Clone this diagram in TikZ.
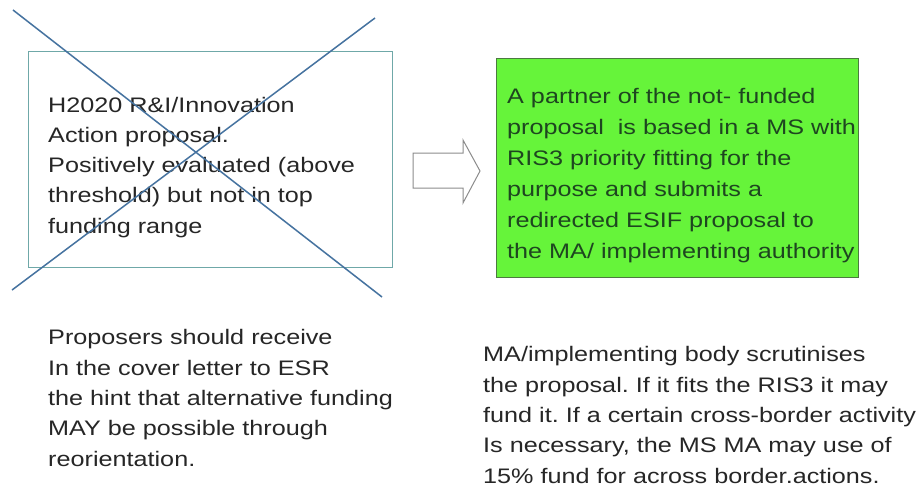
\documentclass[tikz,border=0pt]{standalone}
\usepackage{fontspec}
\setmainfont{Liberation Sans}[FakeStretch=1.2]
\frenchspacing
\begin{document}
\begin{tikzpicture}[x=1pt,y=-1pt,
  bodytext/.style={anchor=base west,inner sep=0pt,align=left,
    font=\fontsize{21}{30.3}\selectfont},
  crossline/.style={draw=crossblue,line width=1.5pt},
]
\definecolor{frameteal}{HTML}{6FA8A8}
\definecolor{crossblue}{HTML}{4673A0}
\definecolor{brightgreen}{HTML}{66F43A}
\definecolor{greenframe}{HTML}{4C7A40}
\definecolor{greentext}{HTML}{1E4620}
\definecolor{darktext}{HTML}{262626}
\definecolor{arrowgray}{HTML}{8C8C8C}
\useasboundingbox (0,0) rectangle (922,487);
\fill[white] (0,0) rectangle (922,487);

% rejected H2020 proposal (multi-line nodes are placed by their last baseline)
\node[draw=frameteal,line width=1.4pt,minimum width=364pt,minimum height=216pt,
  anchor=north west,inner sep=0pt] (h2020) at (28,51) {};
\node[bodytext,text=darktext] (h2020txt) at (48,233.2)
  {H2020 R\&I/Innovation\\Action proposal.\\Positively evaluated (above\\threshold) but not in top\\funding range};
\coordinate (xa) at (13,10);
\coordinate (xb) at (382,297);
\coordinate (xc) at (375,18);
\coordinate (xd) at (12,290);
\draw[crossline] (xa) -- (xb);
\draw[crossline] (xc) -- (xd);

% block arrow
\draw[draw=arrowgray,line width=1pt,fill=white]
  (413,153) -- (463,153) -- (463,140) -- (480,171) -- (463,203) -- (463,188) -- (413,188) -- cycle;

% redirected ESIF proposal
\node[draw=greenframe,fill=brightgreen,line width=1pt,minimum width=362pt,
  minimum height=219pt,anchor=north west,inner sep=0pt] (esif) at (496,58) {};
\node[bodytext,text=greentext,font=\fontsize{21}{31}\selectfont] (esiftxt) at (507,258)
  {A partner of the not- funded\\proposal\ \ is based in a MS with\\RIS3 priority fitting for the\\purpose and submits a\\redirected ESIF proposal to\\the MA/ implementing authority};

% notes
\node[bodytext,text=darktext] (note1) at (48,466)
  {Proposers should receive\\In the cover letter to ESR\\the hint that alternative funding\\MAY be possible through\\reorientation.};
\node[bodytext,text=darktext] (note2) at (483,483)
  {MA/implementing body scrutinises\\the proposal. If it fits the RIS3 it may\\fund it. If a certain cross-border activity\\Is necessary, the MS MA may use of\\15\% fund for across border.actions.};
\end{tikzpicture}
\end{document}
